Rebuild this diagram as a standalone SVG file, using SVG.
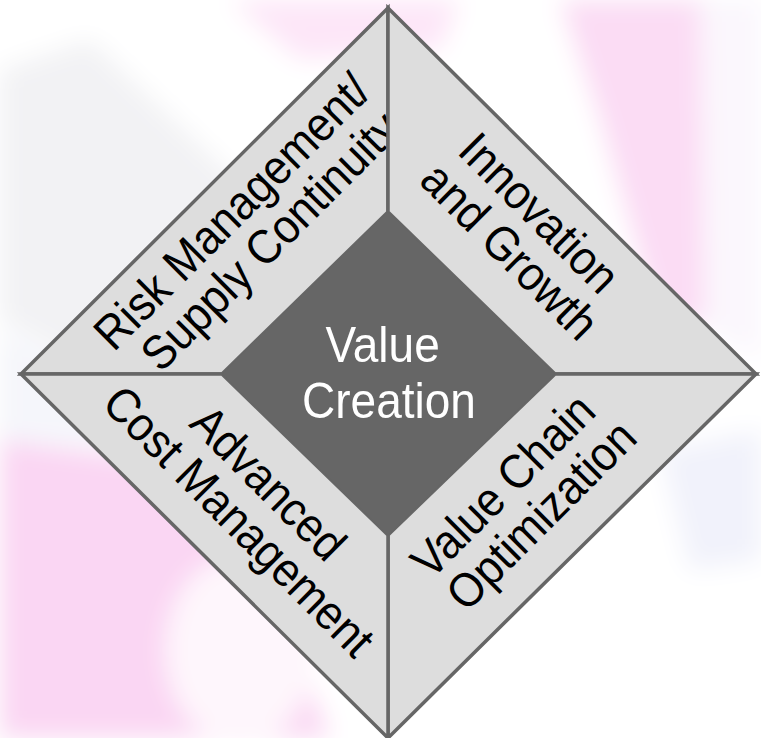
<svg xmlns="http://www.w3.org/2000/svg" width="761" height="738" viewBox="0 0 761 738">
  <defs>
    <filter id="soft" x="-20%" y="-20%" width="140%" height="140%">
      <feGaussianBlur stdDeviation="12"/>
    </filter>
    <style>
      .quad { fill: #dddddd; stroke: #666666; stroke-width: 3.5; stroke-linejoin: miter; }
      .core { fill: #666666; stroke: #666666; stroke-width: 1; }
      .lbl { font-family: "Liberation Sans", Arial, sans-serif; font-size: 44px; fill: #000000; text-anchor: middle; }
      .core-lbl { font-family: "Liberation Sans", Arial, sans-serif; font-size: 46px; fill: #ffffff; text-anchor: middle; }
    </style>
  </defs>

  <!-- faded backdrop artwork -->
  <g id="backdrop" filter="url(#soft)">
    <rect x="-40" y="-40" width="841" height="818" fill="#ffffff"/>
    <polygon points="0,70 90,40 300,240 300,380 150,400 0,320" fill="#f2f2f4"/>
    <polygon points="0,330 150,400 140,450 0,440" fill="#f5f6fb"/>
    <polygon points="230,0 460,0 440,50 300,60" fill="#fde6f8"/>
    <polygon points="560,0 700,0 705,320 660,330 600,120" fill="#fbdcf4"/>
    <polygon points="700,0 761,0 761,360 705,330" fill="#fbf7fd"/>
    <polygon points="0,440 230,470 330,738 0,738" fill="#fad6f3"/>
    <ellipse cx="240" cy="650" rx="75" ry="95" fill="#fef6fc"/>
    <polygon points="660,450 761,430 761,560 690,570" fill="#f1f2fb"/>
  </g>

  <!-- outer quadrants -->
  <g id="risk-management">
    <polygon class="quad" points="21,374 388,8 388,212 222,374"/>
    <text class="lbl" transform="translate(254,225) rotate(-45) scale(1,1.09)">
      <tspan x="0" y="-8">Risk Management/</tspan>
      <tspan x="0" y="36">Supply Continuity</tspan>
    </text>
  </g>

  <g id="innovation-growth">
    <polygon class="quad" points="388,8 756,374 555,374 388,212"/>
    <text class="lbl" transform="translate(526,235) rotate(45) scale(1,1.09)">
      <tspan x="0" y="-8">Innovation</tspan>
      <tspan x="0" y="36">and Growth</tspan>
    </text>
  </g>

  <g id="value-chain">
    <polygon class="quad" points="756,374 388,738 388,535 555,374"/>
    <text class="lbl" transform="translate(525,499) rotate(-45) scale(1,1.09)">
      <tspan x="0" y="-8">Value Chain</tspan>
      <tspan x="0" y="36">Optimization</tspan>
    </text>
  </g>

  <g id="cost-management">
    <polygon class="quad" points="388,738 21,374 222,374 388,535"/>
    <text class="lbl" transform="translate(255,505) rotate(45) scale(1,1.09)">
      <tspan x="0" y="-8">Advanced</tspan>
      <tspan x="0" y="36">Cost Management</tspan>
    </text>
  </g>

  <!-- central value creation node -->
  <g id="value-creation">
    <polygon class="core" points="388,212 555,374 388,535 222,374"/>
    <text class="core-lbl" transform="translate(389,0) scale(1,1.09)">
      <tspan x="0" y="332">Value</tspan>
      <tspan x="0" y="383.5">Creation</tspan>
    </text>
  </g>
</svg>
